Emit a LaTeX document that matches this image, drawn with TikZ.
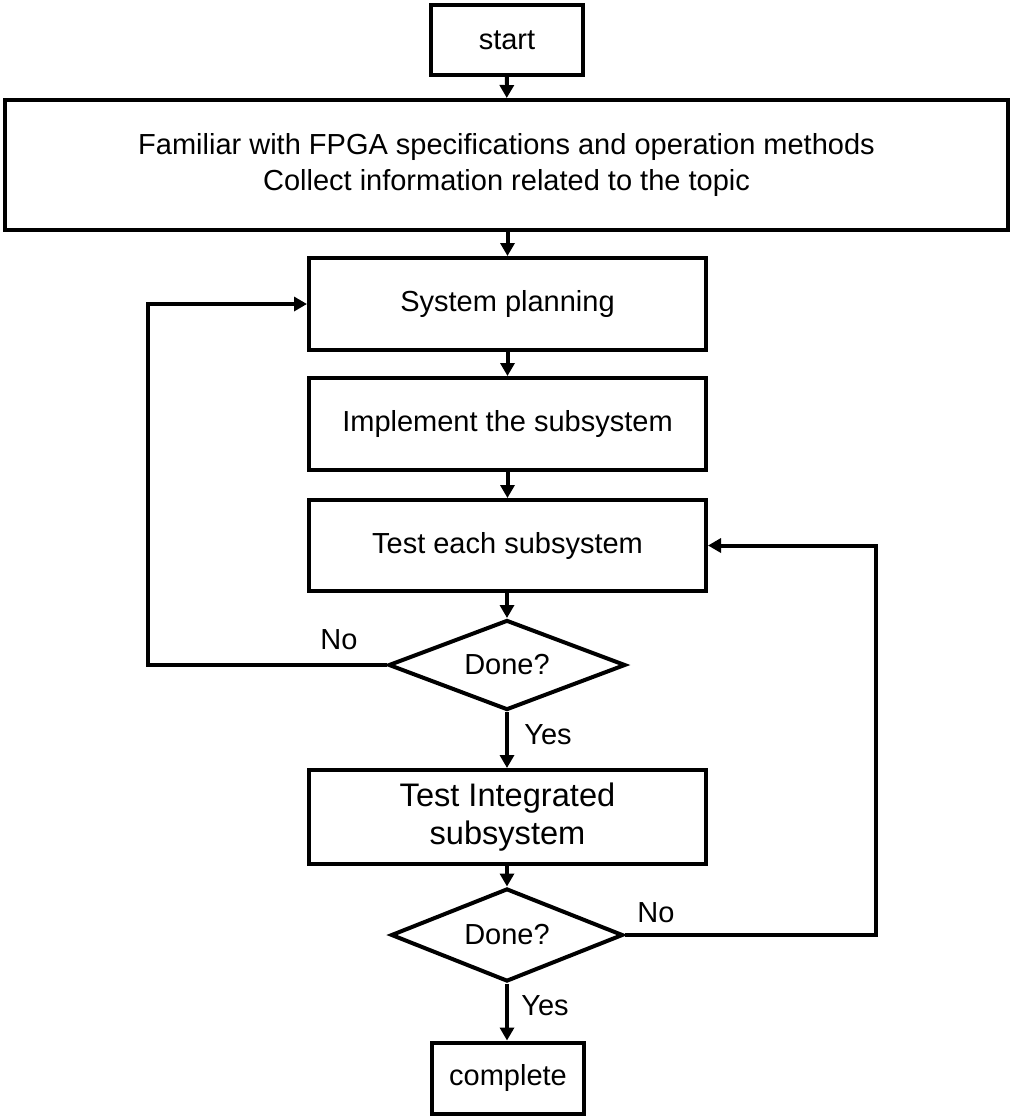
\documentclass[tikz,border=0pt]{standalone}
\usepackage{fontspec}
\setmainfont{Liberation Sans}
\usetikzlibrary{shapes.geometric,arrows.meta,positioning}
\tikzset{
    box/.style={draw, line width=2pt, align=center, inner sep=2pt,
        font=\fontsize{14.5}{18}\selectfont},
    decision/.style={diamond, draw, line width=2pt, aspect=2.6, inner sep=0pt,
        font=\fontsize{14.5}{18}\selectfont},
    flow/.style={line width=2pt, -{Triangle[length=6.5pt,width=7pt]}},
    lbl/.style={font=\fontsize{14.5}{18}\selectfont}
}
\begin{document}
\begin{tikzpicture}[x=0.5pt,y=-0.5pt]
    \useasboundingbox (0,0) rectangle (1014,1116);
    % blocchi principali
    \node[box, minimum width=76pt, minimum height=35pt] (start) at (507,40) {start};
    \node[box, minimum width=501.5pt, minimum height=65pt] (info) at (506.5,165)
        {Familiar with FPGA specifications and operation methods\\Collect information related to the topic};
    \node[box, minimum width=198.5pt, minimum height=46pt] (plan) at (507.5,304) {System planning};
    \node[box, minimum width=198.5pt, minimum height=46pt] (impl) at (507.5,424) {Implement the subsystem};
    \node[box, minimum width=198.5pt, minimum height=45.5pt] (each) at (507.5,545.5) {Test each subsystem};
    \node[decision, minimum width=118.5pt, minimum height=45pt] (done1) at (507,665) {Done?};
    \node[box, minimum width=198.5pt, minimum height=47pt, font=\fontsize{16.3}{19}\selectfont] (integ) at (507.5,817)
        {Test Integrated\\subsystem};
    \node[decision, minimum width=116pt, minimum height=46.5pt] (done2) at (507,935) {Done?};
    \node[box, minimum width=76pt, minimum height=35.5pt] (complete) at (508,1078) {complete};
    % etichette
    \node[lbl] (no1) at (339,640) {No};
    \node[lbl] (yes1) at (548,735) {Yes};
    \node[lbl] (no2) at (656,913) {No};
    \node[lbl] (yes2) at (545,1006) {Yes};
    % frecce
    \draw[flow] (start) -- (info);
    \draw[flow] (info.south -| plan) -- (plan);
    \draw[flow] (plan) -- (impl);
    \draw[flow] (impl) -- (each);
    \draw[flow] (each.south -| done1) -- (done1);
    \draw[flow] (done1) -- (integ.north -| done1);
    \draw[flow] (integ.south -| done2) -- (done2);
    \draw[flow] (done2) -- (complete.north -| done2);
    % cicli di ritorno
    \draw[flow] (done1.west) -- ++(-239,0) |- (plan.west);
    \draw[flow] (done2.east) -- ++(251,0) |- (each.east);
\end{tikzpicture}
\end{document}
